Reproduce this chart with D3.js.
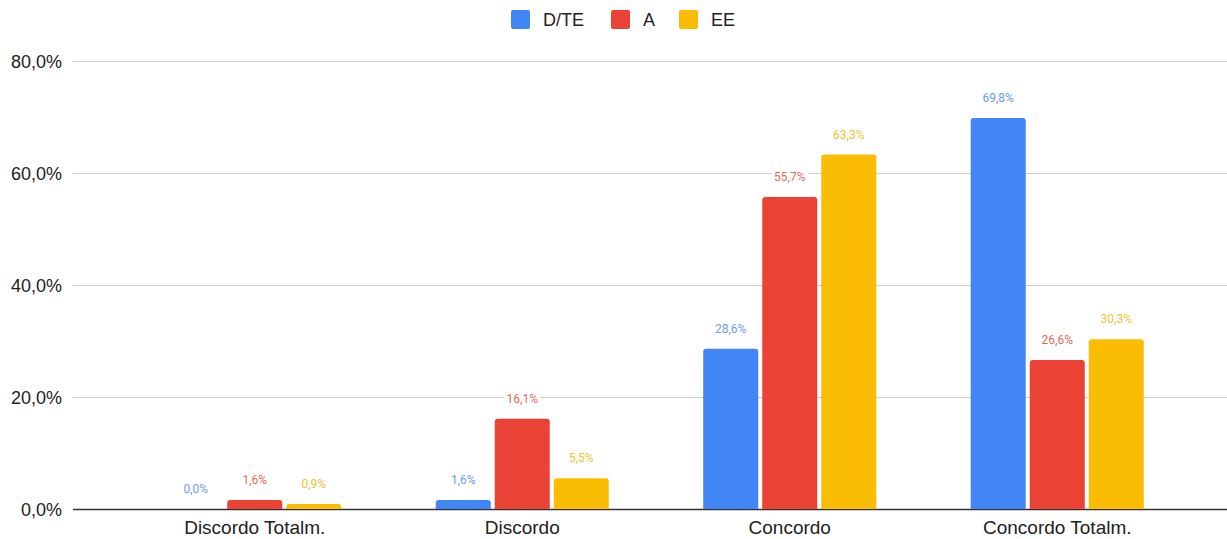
<!DOCTYPE html>
<html>
<head>
<meta charset="utf-8">
<script src="https://cdn.jsdelivr.net/npm/d3@7"></script>
<style>
  html, body { margin: 0; padding: 0; background: #fff; }
  svg { display: block; font-family: "Liberation Sans", Arial, sans-serif; }
</style>
</head>
<body>
<svg id="chart" width="1227" height="539"></svg>
<script>
// Response categories and series values (percent)
const categories = ["Discordo Totalm.", "Discordo", "Concordo", "Concordo Totalm."];
const seriesNames = ["D/TE", "A", "EE"];
const valuesDTE = [0.0, 1.6, 28.6, 69.8];
const valuesA = [1.6, 16.1, 55.7, 26.6];
const valuesEE = [0.9, 5.5, 63.3, 30.3];
const yTicks = [0, 20, 40, 60, 80];

const seriesValues = [valuesDTE, valuesA, valuesEE];
const barColors = ["#4285F4", "#EA4335", "#FBBC04"];
const labelColors = ["#6d9cef", "#e8675c", "#f3c234"];

const svg = d3.select("#chart");
const fmt = v => v.toFixed(1).replace(".", ",") + "%";

const y = d3.scaleLinear().domain([0, 80]).range([509, 61]);
const x0 = d3.scaleBand().domain(categories).range([121, 1191])
  .paddingInner(0.353).paddingOuter(0.1765);
const x1 = d3.scaleBand().domain(seriesNames).range([0, x0.bandwidth()])
  .paddingInner(0.068).paddingOuter(0);

// Horizontal gridlines and tick labels
const yAxis = d3.axisLeft(y).tickValues(yTicks).tickSize(0).tickFormat(v => v.toFixed(1).replace(".", ",") + "%");
const gy = svg.append("g").attr("transform", "translate(73,0)").call(yAxis);
gy.select(".domain").remove();
gy.selectAll(".tick text").attr("x", -11).attr("dy", "0.35em")
  .attr("font-size", 18).attr("fill", "#222")
  .attr("font-family", "'Liberation Sans', Arial, sans-serif");
gy.selectAll(".tick").append("line")
  .attr("x1", 0).attr("x2", 1227 - 73)
  .attr("stroke", d => d === 0 ? "#333" : "#cccccc")
  .attr("stroke-width", d => d === 0 ? 1.3 : 1);

// Rounded-top bar path
function barPath(x, yTop, w, h, r) {
  if (h <= 0) return "";
  r = Math.min(r, h, w / 2);
  return `M${x},${yTop + h}V${yTop + r}Q${x},${yTop} ${x + r},${yTop}` +
         `H${x + w - r}Q${x + w},${yTop} ${x + w},${yTop + r}V${yTop + h}Z`;
}

const rows = categories.map((c, i) => ({
  cat: c,
  items: seriesNames.map((s, j) => ({ series: s, idx: j, value: seriesValues[j][i] }))
}));

const groups = svg.append("g").selectAll("g").data(rows).join("g")
  .attr("transform", d => `translate(${x0(d.cat)},0)`);

groups.selectAll("path").data(d => d.items).join("path")
  .attr("d", d => barPath(x1(d.series), y(d.value), x1.bandwidth(), y(0) - y(d.value), 3))
  .attr("fill", d => barColors[d.idx]);

// Value labels with white backing
const labels = groups.selectAll("g.lbl").data(d => d.items).join("g").attr("class", "lbl");
labels.append("rect").attr("fill", "#fff");
labels.append("text")
  .attr("x", d => x1(d.series) + x1.bandwidth() / 2)
  .attr("y", d => y(d.value) - 16)
  .attr("text-anchor", "middle")
  .attr("font-size", 12)
  .attr("font-family", "Roboto, sans-serif")
  .attr("fill", d => labelColors[d.idx])
  .text(d => fmt(d.value));
labels.each(function () {
  const t = d3.select(this).select("text").node().getBBox();
  d3.select(this).select("rect")
    .attr("x", t.x - 2).attr("y", t.y).attr("width", t.width + 4).attr("height", t.height);
});

// Category labels
svg.append("g").selectAll("text").data(categories).join("text")
  .attr("x", d => x0(d) + x0.bandwidth() / 2)
  .attr("y", 534)
  .attr("text-anchor", "middle")
  .attr("font-size", 19)
  .attr("fill", "#222")
  .text(d => d);

// Legend
const legendX = [511, 611, 679];
const legend = svg.append("g").selectAll("g").data(seriesNames).join("g")
  .attr("transform", (d, i) => `translate(${legendX[i]},10)`);
legend.append("rect").attr("width", 19).attr("height", 19).attr("rx", 2)
  .attr("fill", (d, i) => barColors[i]);
legend.append("text").attr("x", 32).attr("y", 16).attr("font-size", 18)
  .attr("fill", "#222").text(d => d);
</script>
</body>
</html>
